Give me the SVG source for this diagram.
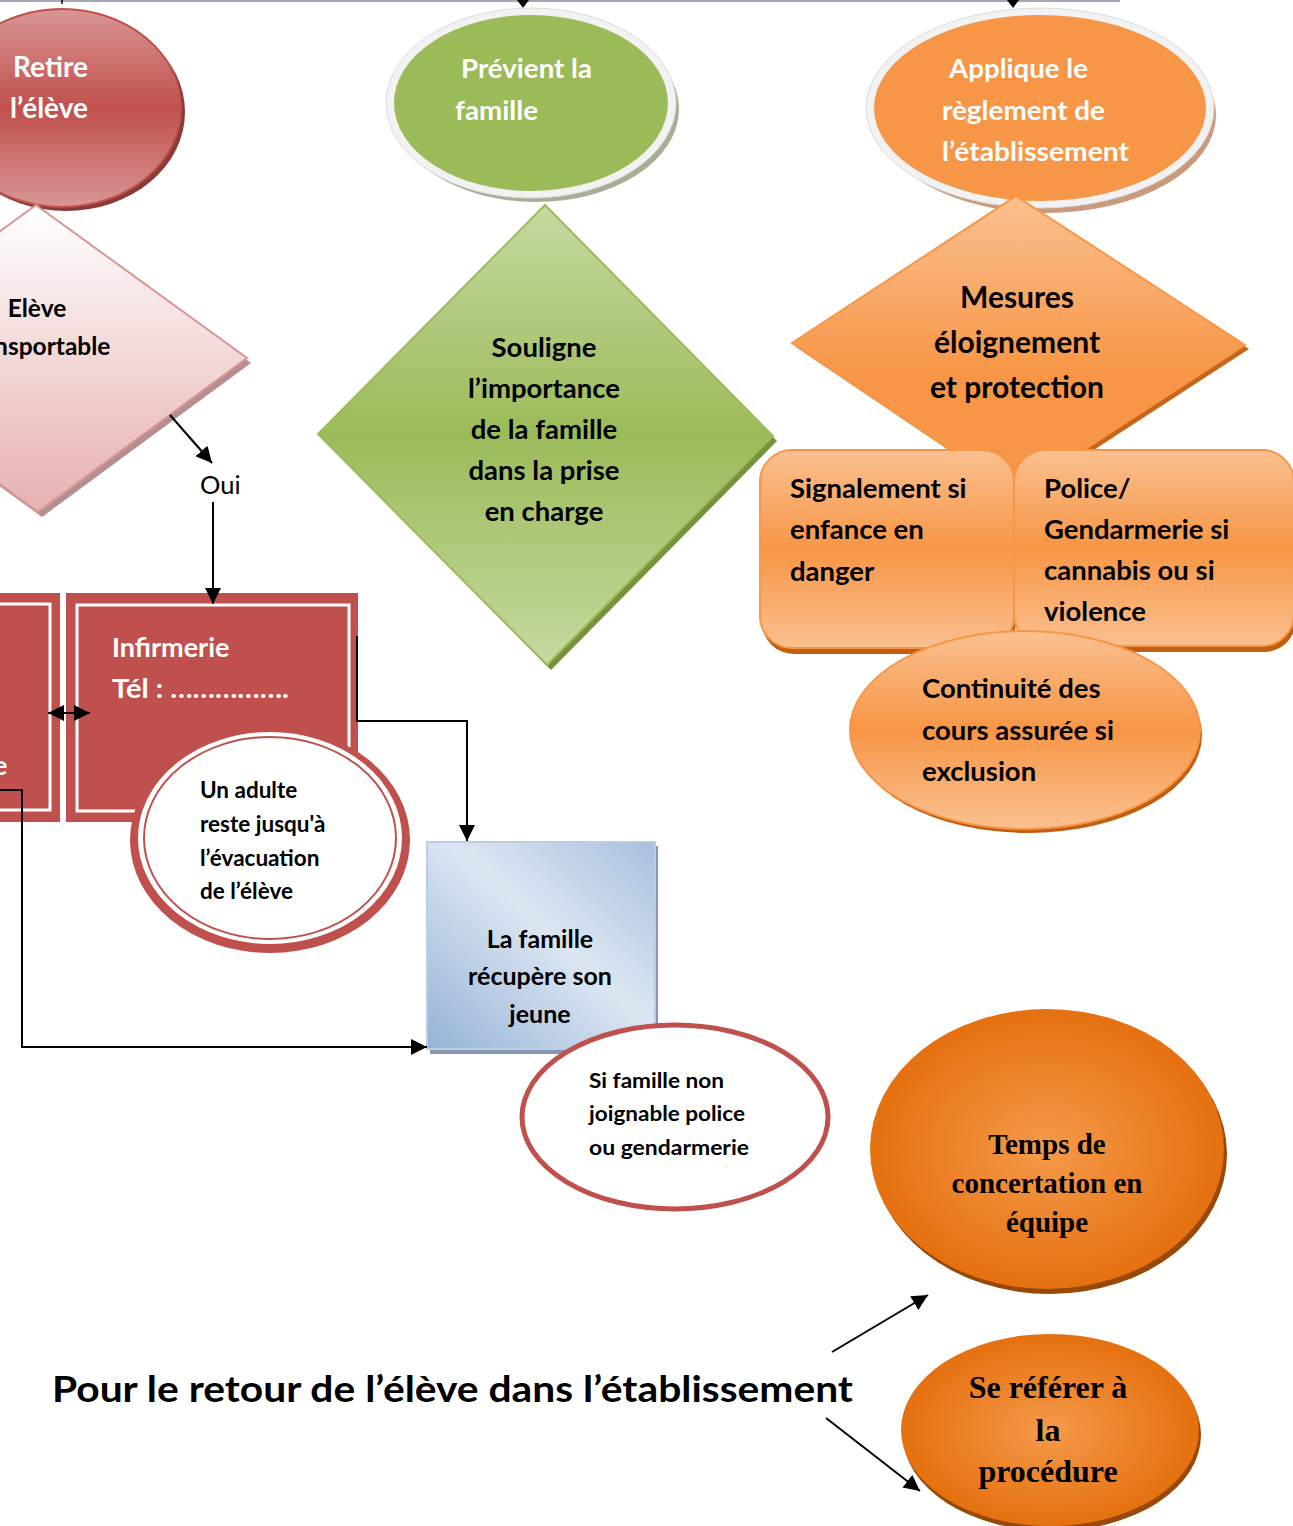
<svg xmlns="http://www.w3.org/2000/svg" width="1293" height="1526" viewBox="0 0 1293 1526">
<defs>
<linearGradient id="gRed" x1="0" y1="0" x2="0" y2="1">
<stop offset="0" stop-color="#d99694"/><stop offset="0.5" stop-color="#c0504d"/><stop offset="1" stop-color="#d99694"/>
</linearGradient>
<linearGradient id="gPink" x1="0" y1="0" x2="0" y2="1">
<stop offset="0" stop-color="#ffffff"/><stop offset="1" stop-color="#e6b0b0"/>
</linearGradient>
<linearGradient id="gGreen" x1="0" y1="0" x2="0" y2="1">
<stop offset="0" stop-color="#c6d9a0"/><stop offset="0.5" stop-color="#9bbb59"/><stop offset="1" stop-color="#c6d9a0"/>
</linearGradient>
<linearGradient id="gOrange" x1="0" y1="0" x2="0" y2="1">
<stop offset="0" stop-color="#fac090"/><stop offset="0.5" stop-color="#f79646"/><stop offset="1" stop-color="#fac090"/>
</linearGradient>
<linearGradient id="gOrangeD" x1="0" y1="0" x2="0" y2="1">
<stop offset="0" stop-color="#fac090"/><stop offset="0.6" stop-color="#f79646"/><stop offset="1" stop-color="#f79646"/>
</linearGradient>
<linearGradient id="gBlue" x1="0" y1="1" x2="1" y2="0">
<stop offset="0" stop-color="#95b3d7"/><stop offset="0.55" stop-color="#dce6f2"/><stop offset="1" stop-color="#a7c0de"/>
</linearGradient>
<radialGradient id="gDeep" cx="0.5" cy="0.5" r="0.55">
<stop offset="0" stop-color="#f59a4a"/><stop offset="1" stop-color="#e36c09"/>
</radialGradient>
<marker id="ahL" viewBox="0 0 10 10" refX="10" refY="5" markerWidth="16" markerHeight="16" orient="auto-start-reverse" markerUnits="userSpaceOnUse">
<path d="M0,0 L10,5 L0,10 z" fill="#000"/>
</marker>
</defs>
<style>
.t{font-family:Lato,"Open Sans","Liberation Sans",sans-serif;font-weight:bold}
.w{fill:#ffffff}
.k{fill:#000000}
.c{text-anchor:middle}
.serif{font-family:"Liberation Serif","DejaVu Serif",serif;font-weight:bold;fill:#000;text-anchor:middle}
.ln{fill:none;stroke:#000;stroke-width:2}
</style>
<rect width="1293" height="1526" fill="#ffffff"/>

<!-- top page line -->
<line x1="0" y1="1" x2="1120" y2="1" stroke="#a6a6b6" stroke-width="2"/>
<line x1="62" y1="0" x2="62" y2="4" stroke="#000" stroke-width="1.5"/>
<path d="M517,0 L529,0 L523,8 z" fill="#000"/>
<path d="M1007,0 L1019,0 L1013,8 z" fill="#000"/>

<g id="retire">
<ellipse cx="66" cy="112" rx="119" ry="99" fill="#8c3a38"/>
<ellipse cx="62" cy="108" rx="119" ry="99" fill="url(#gRed)" stroke="#c0504d" stroke-width="2"/>
<text class="t w" x="13" y="77" font-size="28">Retire</text>
<text class="t w" x="10" y="118" font-size="28">l’élève</text>
</g>

<g id="transportable">
<path d="M40,210 L251,363 L42,517 L-170,363 z" fill="#b58f8f"/>
<path d="M36,205 L247,358 L38,512 L-174,358 z" fill="url(#gPink)" stroke="#d99594" stroke-width="2"/>
<text class="t k c" x="37" y="317" font-size="24.5">Elève</text>
<text class="t k c" x="37" y="355" font-size="24.5">transportable</text>
</g>

<text x="200" y="494" font-size="25.5" font-family="Lato, 'Open Sans', sans-serif" fill="#000">Oui</text>

<g id="box-left">
<rect x="-40" y="593" width="100" height="229" fill="#c0504d"/>
<rect x="-40" y="604" width="90" height="206" fill="none" stroke="#ffffff" stroke-width="3"/>
<text class="t w" x="-7" y="775" font-size="27">e</text>
</g>

<g id="infirmerie">
<rect x="66" y="593" width="292" height="229" fill="#c0504d"/>
<rect x="77" y="605" width="272" height="206" fill="none" stroke="#ffffff" stroke-width="3"/>
<text class="t w" x="112" y="657" font-size="27">Infirmerie</text>
<text class="t w" x="112" y="698" font-size="27" textLength="177" lengthAdjust="spacingAndGlyphs">Tél : …………….</text>
</g>

<g id="adulte">
<ellipse cx="270" cy="840" rx="140" ry="113" fill="#c0504d"/>
<ellipse cx="270" cy="838" rx="131" ry="105" fill="#ffffff" stroke="#ffffff" stroke-width="2"/>
<ellipse cx="270" cy="838" rx="126" ry="101" fill="#ffffff" stroke="#c0504d" stroke-width="2"/>
<text class="t k" x="200" y="798" font-size="22.5">Un adulte</text>
<text class="t k" x="200" y="832" font-size="22.5">reste jusqu'à</text>
<text class="t k" x="200" y="866" font-size="22.5">l’évacuation</text>
<text class="t k" x="200" y="899" font-size="22.5">de l’élève</text>
</g>

<g id="previent">
<ellipse cx="536" cy="109" rx="143" ry="93" fill="#a7ae95"/>
<ellipse cx="531" cy="103" rx="145" ry="95" fill="#f2f2f2" stroke="#dcdcdc" stroke-width="1"/>
<ellipse cx="531" cy="103" rx="137" ry="88" fill="#9bbb59"/>
<text class="t w" x="461" y="78" font-size="27" textLength="131" lengthAdjust="spacingAndGlyphs">Prévient la</text>
<text class="t w" x="455" y="120" font-size="27" textLength="83" lengthAdjust="spacingAndGlyphs">famille</text>
</g>

<g id="souligne">
<path d="M549,210 L777,441 L551,670 L322,439 z" fill="#76923c"/>
<path d="M545,205 L773,436 L547,665 L318,434 z" fill="url(#gGreen)" stroke="#9bbb59" stroke-width="2"/>
<text class="t k c" x="544" y="357" font-size="27.5">Souligne</text>
<text class="t k c" x="544" y="398" font-size="27.5">l’importance</text>
<text class="t k c" x="544" y="439" font-size="27.5">de la famille</text>
<text class="t k c" x="544" y="480" font-size="27.5">dans la prise</text>
<text class="t k c" x="544" y="521" font-size="27.5">en charge</text>
</g>

<g id="applique">
<ellipse cx="1046" cy="115" rx="170" ry="98" fill="#c99a7c"/>
<ellipse cx="1040" cy="108" rx="174" ry="100" fill="#f2f2f2" stroke="#dcdcdc" stroke-width="1"/>
<ellipse cx="1040" cy="108" rx="166" ry="93" fill="#f79646"/>
<text class="t w" x="949" y="78" font-size="27" textLength="139" lengthAdjust="spacingAndGlyphs">Applique le</text>
<text class="t w" x="942" y="120" font-size="27" textLength="163" lengthAdjust="spacingAndGlyphs">règlement de</text>
<text class="t w" x="942" y="161" font-size="27" textLength="187" lengthAdjust="spacingAndGlyphs">l’établissement</text>
</g>

<g id="mesures">
<path d="M1020,200 L1249,349 L1020,498 L796,347 z" fill="#c5661b"/>
<path d="M1016,196 L1245,345 L1016,494 L792,343 z" fill="url(#gOrangeD)" stroke="#f79646" stroke-width="2"/>
<text class="t k c" x="1017" y="308" font-size="30">Mesures</text>
<text class="t k c" x="1017" y="353" font-size="30">éloignement</text>
<text class="t k c" x="1017" y="398" font-size="30">et protection</text>
</g>

<g id="signalement">
<rect x="762" y="455" width="254" height="199" rx="32" fill="#c35f10"/>
<rect x="760" y="450" width="254" height="198" rx="32" fill="url(#gOrange)" stroke="#f79646" stroke-width="2"/>
<text class="t k" x="790" y="498" font-size="27.5">Signalement si</text>
<text class="t k" x="790" y="539" font-size="27.5">enfance en</text>
<text class="t k" x="790" y="581" font-size="27.5">danger</text>
</g>

<g id="police">
<rect x="1016" y="455" width="280" height="197" rx="32" fill="#c35f10"/>
<rect x="1014" y="450" width="280" height="196" rx="32" fill="url(#gOrange)" stroke="#f79646" stroke-width="2"/>
<text class="t k" x="1044" y="498" font-size="27.5">Police/</text>
<text class="t k" x="1044" y="539" font-size="27.5">Gendarmerie si</text>
<text class="t k" x="1044" y="580" font-size="27.5">cannabis ou si</text>
<text class="t k" x="1044" y="621" font-size="27.5">violence</text>
</g>

<g id="continuite">
<ellipse cx="1028" cy="735" rx="174" ry="98" fill="#c35f10"/>
<ellipse cx="1025" cy="730" rx="175" ry="99" fill="url(#gOrange)" stroke="#f79646" stroke-width="2"/>
<text class="t k" x="922" y="698" font-size="27.5">Continuité des</text>
<text class="t k" x="922" y="740" font-size="27.5">cours assurée si</text>
<text class="t k" x="922" y="781" font-size="27.5">exclusion</text>
</g>

<g id="famille">
<rect x="430" y="846" width="228" height="208" fill="#8496b0"/>
<rect x="427" y="842" width="228" height="207" fill="url(#gBlue)" stroke="#b9cde5" stroke-width="2"/>
<text class="t k c" x="540" y="948" font-size="25">La famille</text>
<text class="t k c" x="540" y="985" font-size="25">récupère son</text>
<text class="t k c" x="540" y="1023" font-size="25">jeune</text>
</g>

<g id="non-joignable">
<ellipse cx="675" cy="1117" rx="153" ry="92" fill="#ffffff" stroke="#c0504d" stroke-width="5"/>
<text class="t k" x="589" y="1088" font-size="20" textLength="135" lengthAdjust="spacingAndGlyphs">Si famille non</text>
<text class="t k" x="589" y="1121" font-size="20" textLength="156" lengthAdjust="spacingAndGlyphs">joignable police</text>
<text class="t k" x="589" y="1155" font-size="20" textLength="160" lengthAdjust="spacingAndGlyphs">ou gendarmerie</text>
</g>

<g id="concertation">
<ellipse cx="1050" cy="1154" rx="177" ry="140" fill="#984807"/>
<ellipse cx="1047" cy="1149" rx="177" ry="140" fill="url(#gDeep)"/>
<text class="serif" x="1047" y="1154" font-size="29">Temps de</text>
<text class="serif" x="1047" y="1193" font-size="29">concertation en</text>
<text class="serif" x="1047" y="1232" font-size="29">équipe</text>
</g>

<g id="procedure">
<ellipse cx="1052" cy="1435" rx="149" ry="96" fill="#984807"/>
<ellipse cx="1050" cy="1430" rx="149" ry="96" fill="url(#gDeep)"/>
<text class="serif" x="1048" y="1398" font-size="32">Se référer à</text>
<text class="serif" x="1048" y="1441" font-size="32">la</text>
<text class="serif" x="1048" y="1482" font-size="32">procédure</text>
</g>

<text class="t k" x="52" y="1402" font-size="36" textLength="801" lengthAdjust="spacingAndGlyphs">Pour le retour de l’élève dans l’établissement</text>

<g id="connectors">
<line class="ln" x1="170" y1="415" x2="212" y2="463" marker-end="url(#ahL)"/>
<line class="ln" x1="213" y1="502" x2="213" y2="604" marker-end="url(#ahL)"/>
<line class="ln" x1="48" y1="713" x2="90" y2="713" marker-start="url(#ahL)" marker-end="url(#ahL)"/>
<polyline class="ln" points="357,636 357,721 467,721 467,841" marker-end="url(#ahL)"/>
<polyline class="ln" points="0,790 22,790 22,1047 427,1047" marker-end="url(#ahL)"/>
<line class="ln" x1="832" y1="1352" x2="928" y2="1295" marker-end="url(#ahL)"/>
<line class="ln" x1="826" y1="1418" x2="920" y2="1491" marker-end="url(#ahL)"/>
</g>
</svg>
